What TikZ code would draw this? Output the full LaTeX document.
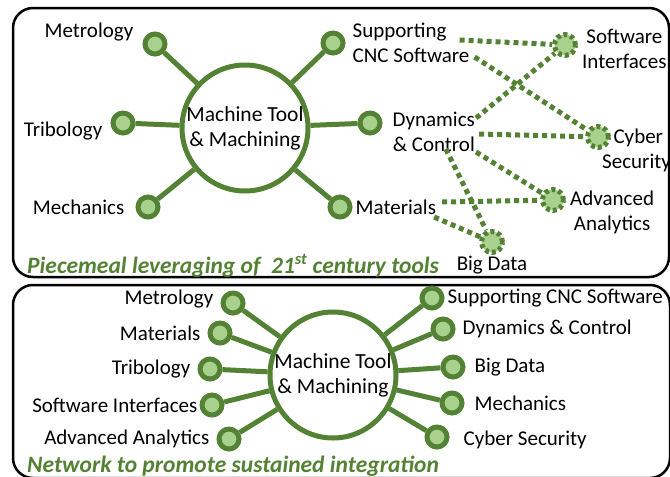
\documentclass[tikz,border=0pt]{standalone}
\usepackage{fontspec}
\setmainfont{Carlito}
\usetikzlibrary{positioning}
\definecolor{leafgreen}{HTML}{548235}
\definecolor{palegreen}{HTML}{A9D18E}
\tikzset{
    hubnode/.style = {
        circle,
        draw=leafgreen,
        line width=5pt,
        minimum size=126pt,
        align=center,
        inner sep=0pt,
        font=\fontsize{21.5}{25}\selectfont
    },
    spokenode/.style = {
        circle,
        draw=leafgreen,
        fill=palegreen,
        line width=5pt,
        minimum size=20pt,
        inner sep=0pt
    },
    toolnode/.style = {
        spokenode,
        minimum size=21pt,
        dash pattern=on 4pt off 3pt
    },
    spoke/.style = {draw=leafgreen, line width=5pt},
    toollink/.style = {draw=leafgreen, line width=5pt, dash pattern=on 5pt off 4pt},
    lbl/.style = {font=\fontsize{21}{25}\selectfont, inner sep=1pt},
    panel/.style = {draw=black, line width=2.5pt, rounded corners=20pt},
    caption/.style = {
        font=\fontsize{23.5}{27}\selectfont\bfseries\itshape,
        text=leafgreen,
        anchor=west,
        inner sep=0pt
    }
}
\begin{document}
\begin{tikzpicture}[x=1pt,y=-1pt]
    \useasboundingbox (0,0) rectangle (670,477);
    \draw [panel] (13,8) rectangle (669,277);
    \draw [panel] (13,285) rectangle (670,478);

    \node [hubnode] (hubA) at (245,128) {Machine Tool\\\& Machining};
    \node [spokenode] (metA) at (155,44) {};
    \node [spokenode] (triA) at (123,123) {};
    \node [spokenode] (mecA) at (148,207) {};
    \node [spokenode] (supA) at (333,43) {};
    \node [spokenode] (dynA) at (370,123) {};
    \node [spokenode] (matA) at (340,207) {};
    \foreach \n in {metA,triA,mecA,supA,dynA,matA}
        \draw [spoke] (\n) -- (hubA);
    \node [lbl, left=8pt of metA, yshift=12pt] (metL) {Metrology};
    \node [lbl, left=7pt of triA, yshift=-8pt] (triL) {Tribology};
    \node [lbl, left=10pt of mecA] (mecL) {Mechanics};
    \node [lbl, right=6pt of supA, align=left] (supL) {Supporting\\CNC Software};
    \node [lbl, right=9pt of dynA, yshift=-9pt, align=center] (dynL) {Dynamics\\\& Control};
    \node [lbl, right=2pt of matA] (matL) {Materials};

    \node [toolnode] (softA) at (565,45) {};
    \node [toolnode] (cybA) at (598,137) {};
    \node [toolnode] (advA) at (553,200) {};
    \node [toolnode] (bigA) at (492,242) {};
    \node [lbl, right=3pt of softA, yshift=-4pt, align=center] (softL) {Software\\Interfaces};
    \node [lbl, right=-10pt of cybA, yshift=-13pt, align=center] (cybL) {\,Cyber\\Security};
    \node [lbl, right=3pt of advA, yshift=-12pt, align=center] (advL) {Advanced\\Analytics};
    \node [lbl, below=0pt of bigA] (bigL) {Big Data};
    \draw [toollink] ([shift={(-11,-3)}]supL.east) -- (softA);
    \draw [toollink] ([shift={(4,14)}]supL.east) -- (cybA);
    \draw [toollink] ([shift={(0,-14)}]dynL.east) -- (softA);
    \draw [toollink] ([shift={(3,2)}]dynL.east) -- (cybA);
    \draw [toollink] ([shift={(0,20)}]dynL.east) -- (advA);
    \draw [toollink] ([shift={(12,-4)}]dynL.south) -- (bigA);
    \draw [toollink] ([shift={(5,-5)}]matL.east) -- (advA);
    \draw [toollink] ([shift={(-3,10)}]matL.east) -- (bigA);
    \node [caption] (capA) at (27,266) {Piecemeal leveraging of~ 21\textsuperscript{st} century tools};

    \node [hubnode] (hubB) at (333,375) {Machine Tool\\\& Machining};
    \node [spokenode] (metB) at (233,303) {};
    \node [spokenode] (matB) at (220,333) {};
    \node [spokenode] (triB) at (210,369) {};
    \node [spokenode] (sofB) at (212,405) {};
    \node [spokenode] (advB) at (229,439) {};
    \node [spokenode] (supB) at (432,298) {};
    \node [spokenode] (dynB) at (443,329) {};
    \node [spokenode] (bigB) at (453,367) {};
    \node [spokenode] (mecB) at (452,403) {};
    \node [spokenode] (cybB) at (437,437) {};
    \foreach \n in {metB,matB,triB,sofB,advB,supB,dynB,bigB,mecB,cybB}
        \draw [spoke] (\n) -- (hubB);
    \node [lbl, left=6pt of metB, yshift=4pt] (metM) {Metrology};
    \node [lbl, left=6pt of matB] (matM) {Materials};
    \node [lbl, left=6pt of triB] (triM) {Tribology};
    \node [lbl, left=1pt of sofB] (sofM) {Software Interfaces};
    \node [lbl, left=6pt of advB] (advM) {Advanced Analytics};
    \node [lbl, right=2pt of supB] (supM) {Supporting CNC Software};
    \node [lbl, right=6pt of dynB] (dynM) {Dynamics \& Control};
    \node [lbl, right=8pt of bigB] (bigM) {Big Data};
    \node [lbl, right=9pt of mecB] (mecM) {Mechanics};
    \node [lbl, right=13pt of cybB, yshift=-3pt] (cybM) {Cyber Security};
    \node [caption] (capB) at (27,466) {Network to promote sustained integration};
\end{tikzpicture}
\end{document}
